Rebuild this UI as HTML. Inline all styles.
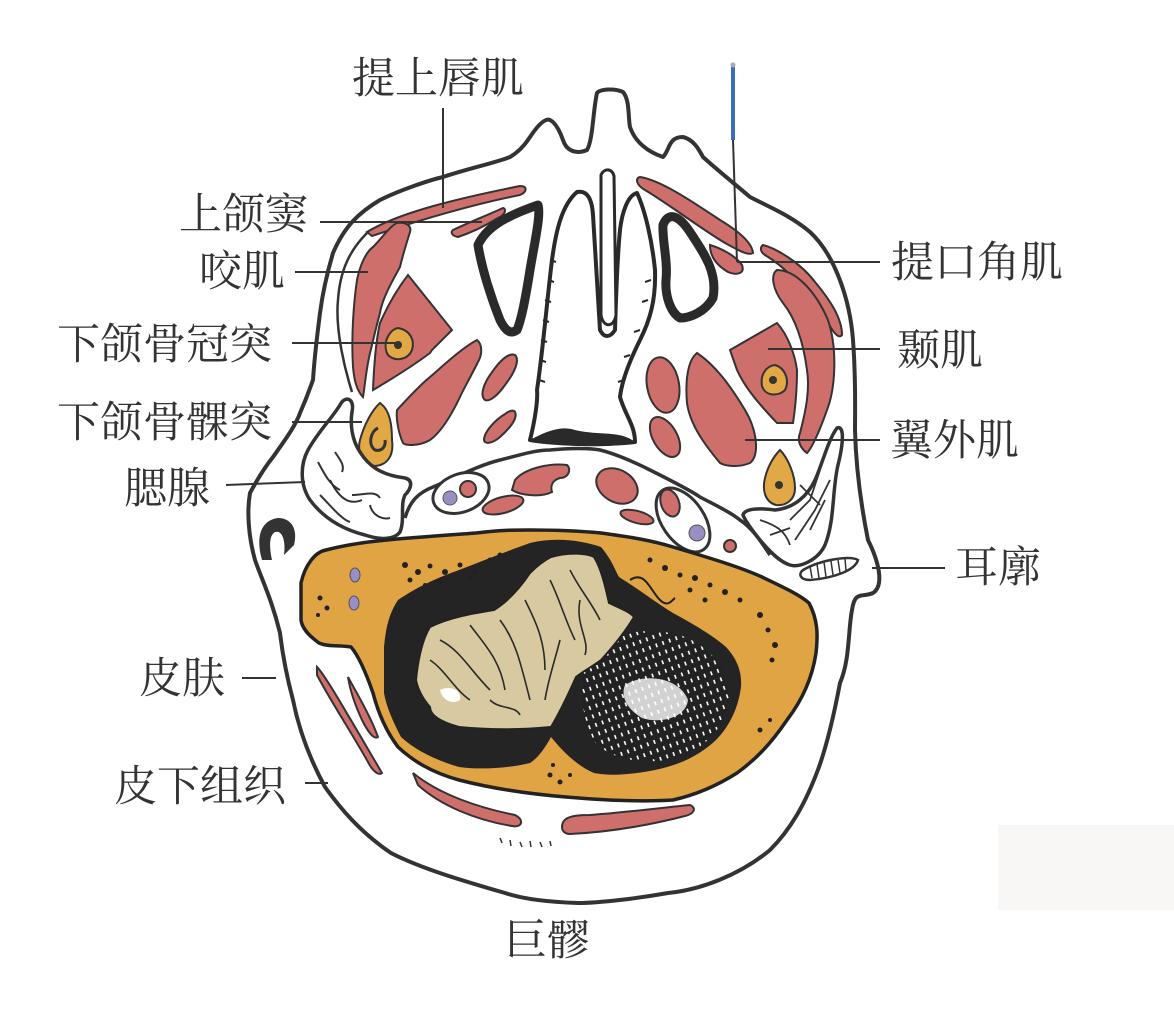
<!DOCTYPE html>
<html><head><meta charset="utf-8"><style>
html,body{margin:0;padding:0;background:#fff;}
svg{display:block;}
.t{font-family:"Liberation Serif","Noto Serif CJK SC",serif;font-size:43px;fill:#333;}
.r{fill:#cf6f6c;stroke:#333;stroke-width:2;}
.y{fill:#e2a846;stroke:#333;stroke-width:2;}
.o{fill:none;stroke:#333;stroke-width:4;stroke-linejoin:round;}
.l{stroke:#333;stroke-width:2;}
</style></head><body>
<svg width="1174" height="1011" viewBox="0 0 1174 1011" xmlns="http://www.w3.org/2000/svg">
<defs>
<pattern id="hatch" width="9" height="7" patternUnits="userSpaceOnUse" patternTransform="rotate(70)">
<rect width="9" height="7" fill="#222"/><rect x="1" y="2" width="4" height="1.6" fill="#fff"/>
</pattern>
</defs>
<rect x="998" y="825" width="176" height="85" fill="#f8f7f6"/>
<path class="o" d="M380,200 C400,190 430,180 443,177 C470,168 495,163 510,157 C522,150 528,140 530,137 C538,125 545,118 550,120 C558,124 562,138 563,140 C566,150 575,155 587,150 C593,140 593,110 597,93 C600,89 615,88 623,92 C630,100 628,118 630,127 C635,142 648,152 663,157 C670,150 668,137 683,137 C695,140 700,152 703,157 C715,168 730,180 750,197 C765,205 790,215 810,232 C835,255 850,300 853,340 C856,380 855,410 855,430 C856,470 862,510 868,540 C878,560 885,585 873,593 C862,598 855,590 852,610 C848,630 850,660 840,683 C833,720 825,750 819,767 C805,805 790,830 770,850 C740,875 700,890 668,893 C640,898 600,903 578,903 C545,902 520,898 505,893 C460,880 420,868 391,853 C360,832 340,808 325,787 C305,750 297,720 293,700 C285,670 282,650 280,633 C272,600 262,580 255,560 C248,535 247,510 250,493 C258,478 265,467 273,457 C285,440 296,425 300,413 C308,395 311,385 313,380 C315,350 318,330 320,313 C323,290 328,270 333,253 C345,225 360,212 380,200 Z"/>
<path fill="none" stroke="#333" stroke-width="2.5" d="M367,233 C350,250 340,270 338,300 C335,330 345,370 352,392"/>
<path d="M262,560 C255,535 262,520 278,518 C292,518 298,530 294,545 L284,555 C286,540 282,530 275,532 C268,536 270,550 272,560 Z" fill="#333"/>
<path class="r" d="M367,232 C400,212 460,198 520,186 C528,186 527,192 520,195 C470,205 420,220 372,236 Z"/>
<path class="r" d="M453,230 C470,222 490,214 503,208 C507,209 505,215 498,218 C485,226 470,233 458,237 C452,236 450,232 453,230 Z"/>
<path class="r" d="M397,223 C405,222 412,225 410,232 C405,248 402,258 400,267 C390,285 382,300 380,313 C374,335 371,350 370,353 C366,370 365,385 363,397 C356,390 354,378 353,367 C351,335 354,300 357,280 C360,265 366,252 373,247 C382,238 390,226 397,223 Z"/>
<path class="r" d="M408,275 L452,330 L432,350 L430,353 C410,368 390,380 373,390 C374,365 376,340 380,323 C388,305 398,288 408,275 Z"/>
<path class="y" d="M398,328 C410,330 415,340 412,350 C408,360 395,362 388,355 C382,345 388,330 398,328 Z"/>
<circle cx="398" cy="345" r="4" fill="#333"/>
<path class="r" d="M477,340 C483,345 482,355 478,362 C470,378 462,392 460,397 C450,418 440,433 430,440 C420,446 405,446 403,443 C398,432 396,418 397,410 C408,398 420,385 430,377 C445,364 462,348 477,340 Z"/>
<path class="r" d="M515,355 C520,360 515,372 505,385 C498,395 490,402 485,400 C480,396 483,385 490,375 C498,363 508,352 515,355 Z"/>
<path class="r" d="M515,412 C518,418 510,428 500,437 C493,443 485,445 484,440 C484,432 495,420 505,414 C510,410 514,410 515,412 Z"/>
<path class="y" d="M380,403 C390,410 392,425 392,440 C394,455 388,465 375,466 C362,464 357,452 360,440 C364,425 372,410 380,403 Z"/>
<path d="M378,428 C370,432 368,445 375,450 C382,452 386,446 385,440" fill="none" stroke="#333" stroke-width="3"/>
<path fill="#fff" stroke="#333" stroke-width="3.5" d="M340,405 C345,395 355,398 352,412 C350,425 352,440 360,452 C368,465 380,475 405,478 C413,480 412,488 405,495 C400,505 405,520 400,532 C394,540 380,540 365,535 C345,530 325,520 310,500 C300,485 300,465 308,450 C318,432 332,418 340,405 Z"/>
<g stroke="#333" stroke-width="2" fill="none">
<path d="M318,462 C325,475 330,485 340,490"/><path d="M330,480 C340,500 350,505 362,500"/><path d="M352,495 C365,495 375,490 380,498"/><path d="M320,495 C330,505 342,520 350,522"/><path d="M370,505 C372,515 382,520 390,518"/><path d="M335,452 C340,460 345,465 342,472"/>
</g>
<path fill="#fff" stroke="#2a2a2a" stroke-width="9" stroke-linejoin="round" d="M478,245 C485,230 500,218 538,205 C541,215 535,240 530,270 C526,295 522,318 517,330 C510,335 505,330 500,320 C492,300 482,270 478,245 Z"/>
<path fill="#fff" stroke="#2a2a2a" stroke-width="9" stroke-linejoin="round" d="M663,225 C668,212 678,214 690,232 C703,252 718,272 713,298 C705,312 690,318 680,318 C670,312 665,295 666,280 C668,260 662,240 663,225 Z"/>
<path fill="#fff" stroke="#2a2a2a" stroke-width="4" stroke-linejoin="round" d="M530,440 C535,420 538,400 537,390 C543,350 547,300 552,260 C556,230 562,205 577,192 C588,190 592,200 593,215 C596,260 598,300 600,330 C604,338 610,338 615,330 C616,300 617,260 620,230 C622,212 628,195 637,193 C645,210 652,240 655,270 C656,300 650,320 640,340 C630,360 622,380 620,397 C625,415 635,425 635,442 C610,445 560,445 530,440 Z"/>
<g stroke="#2a2a2a" stroke-width="2">
<path d="M545,300 l6,2"/><path d="M543,320 l6,2"/><path d="M541,340 l6,2"/><path d="M540,360 l6,2"/><path d="M539,380 l6,2"/><path d="M550,260 l6,2"/><path d="M548,280 l6,2"/>
<path d="M651,280 l-6,2"/><path d="M648,300 l-6,2"/><path d="M640,330 l-6,2"/><path d="M630,355 l-6,2"/><path d="M624,380 l-6,2"/>
</g>
<path fill="#fff" stroke="#2a2a2a" stroke-width="3" d="M601,175 C604,168 612,168 614,176 L616,315 C614,328 603,328 601,315 Z"/>
<path d="M530,440 C545,432 560,425 575,430 C600,436 620,430 635,442 C620,448 560,448 530,440Z" fill="#2a2a2a"/>
<path class="r" d="M640,177 C660,180 690,200 720,220 C740,232 752,243 753,253 C748,256 738,250 725,243 C700,228 670,205 645,190 C636,185 635,178 640,177 Z"/>
<path class="r" d="M710,245 C720,248 735,255 742,265 C745,273 738,276 728,272 C718,266 710,258 710,245 Z"/>
<path class="r" d="M763,245 C775,248 800,262 815,282 C830,300 842,318 842,335 C838,340 832,330 825,318 C810,295 790,270 765,255 C760,252 760,247 763,245 Z"/>
<path class="r" d="M777,270 C795,270 815,290 828,320 C838,350 835,390 827,410 C820,430 812,448 807,453 C800,448 797,440 800,433 C806,410 810,390 807,370 C803,340 795,318 783,303 C773,290 770,275 777,270 Z"/>
<path class="r" d="M730,350 L777,323 C788,335 795,355 797,370 C797,390 795,410 793,423 L777,423 C760,405 745,388 737,370 Z"/>
<path class="y" d="M775,365 C785,368 790,380 785,390 C778,397 765,396 762,386 C760,375 766,366 775,365 Z"/>
<circle cx="773" cy="380" r="4" fill="#333"/>
<path class="r" d="M697,353 C715,365 730,385 745,410 C757,430 760,455 750,463 C738,468 725,466 720,463 C705,445 690,425 687,403 C685,380 688,360 697,353 Z"/>
<ellipse class="r" cx="663" cy="385" rx="16" ry="28" transform="rotate(-10 663 385)"/>
<ellipse class="r" cx="665" cy="437" rx="12" ry="22" transform="rotate(-30 665 437)"/>
<path class="y" d="M780,450 C788,458 795,475 795,488 C795,500 786,506 776,505 C765,502 762,490 765,478 C768,465 775,455 780,450 Z"/>
<circle cx="779" cy="485" r="4" fill="#333"/>
<path fill="#fff" stroke="#333" stroke-width="3.5" d="M837,428 C845,425 843,445 838,465 C832,490 835,520 825,545 C818,560 800,568 790,565 C780,562 770,552 760,540 C752,530 745,520 743,515 C745,508 760,508 775,510 C795,508 808,495 815,480 C822,465 828,440 837,428 Z"/>
<g stroke="#333" stroke-width="1.8" fill="none">
<path d="M820,470 L810,500 L790,520"/><path d="M830,480 L815,510 L795,540"/><path d="M760,520 C775,525 785,530 790,545"/><path d="M825,500 L810,530"/><path d="M800,485 L820,505"/><path d="M770,535 L790,528"/>
</g>
<path fill="#fff" stroke="#333" stroke-width="2.5" d="M803,570 C820,560 850,555 858,560 C855,570 835,578 810,580 C800,580 798,574 803,570 Z"/>
<g stroke="#333" stroke-width="1.5"><path d="M810,566 L812,578"/><path d="M817,564 L819,578"/><path d="M824,562 L826,577"/><path d="M831,561 L833,575"/><path d="M838,560 L840,573"/><path d="M845,559 L846,570"/></g>
<path fill="none" stroke="#333" stroke-width="3.5" d="M405,518 C410,500 420,492 433,487 C460,475 480,465 500,460 C520,455 535,450 550,450 C570,448 590,448 600,450 C620,455 640,465 650,470 C670,480 690,490 700,497 C715,505 730,512 740,520 C752,528 760,540 770,555"/>
<ellipse cx="461" cy="493" rx="29" ry="19" transform="rotate(-20 461 493)" fill="#fff" stroke="#333" stroke-width="3"/>
<ellipse cx="683" cy="520" rx="21" ry="36" transform="rotate(-35 683 520)" fill="#fff" stroke="#333" stroke-width="3"/>
<path class="r" d="M515,480 C525,468 550,463 567,465 C572,470 568,478 560,478 C553,480 550,485 552,492 C540,498 520,495 512,490 Z"/>
<ellipse class="r" cx="617" cy="486" rx="22" ry="16" transform="rotate(30 617 486)"/>
<ellipse class="r" cx="503" cy="505" rx="21" ry="8" transform="rotate(-15 503 505)"/>
<ellipse class="r" cx="637" cy="517" rx="17" ry="6" transform="rotate(15 637 517)"/>
<ellipse class="r" cx="670" cy="503" rx="9" ry="14" transform="rotate(-20 670 503)"/>
<circle class="r" cx="468" cy="489" r="8"/>
<circle class="r" cx="730" cy="546" r="6"/>
<circle cx="450" cy="498" r="7" fill="#9a8fc4" stroke="#555"/>
<circle cx="697" cy="533" r="8" fill="#9a8fc4" stroke="#555"/>
<path fill="#e0a445" stroke="#222" stroke-width="3.5" d="M301,583 C305,565 315,552 326,550 C345,545 365,542 387,540 C420,537 450,535 476,533 C500,530 515,530 530,530 C560,530 580,531 601,533 C630,537 650,540 673,547 C710,558 740,567 762,577 C785,588 800,595 809,603 C818,620 818,635 816,653 C812,680 800,703 787,720 C770,745 755,760 737,773 C715,787 695,795 673,800 C640,802 600,800 566,797 C530,794 490,788 459,780 C430,772 412,760 398,747 C385,730 378,712 373,693 C365,670 358,655 351,647 C340,645 328,647 319,643 C308,635 302,628 301,620 Z"/>
<path fill="#242424" d="M384,647 C386,625 390,612 398,600 C420,585 440,577 459,570 C485,560 510,550 530,543 C555,537 580,540 601,547 C612,560 615,570 619,577 C640,590 655,602 673,613 C695,625 712,635 726,647 C738,660 742,673 741,687 C738,710 728,728 716,740 C700,755 680,765 655,770 C630,775 610,776 594,773 C575,765 560,748 551,737 C545,748 538,758 530,763 C510,768 480,770 459,767 C435,760 415,750 401,737 C392,720 386,705 384,693 Z"/>
<path fill="url(#hatch)" d="M585,660 C600,635 640,625 680,635 C715,648 732,675 728,705 C720,735 700,752 668,760 C635,764 610,758 595,742 C583,722 578,690 585,660 Z"/>
<path fill="#fff" opacity="0.8" d="M625,685 C645,672 680,678 688,700 C686,718 660,724 642,718 C628,710 620,697 625,685 Z"/>
<path fill="#d8c9a0" stroke="#222" stroke-width="2" d="M416,680 C418,660 422,640 430,627 C450,617 475,613 494,610 C510,600 522,585 530,573 C538,565 545,560 551,557 C565,553 585,552 594,557 C602,570 606,590 609,603 C620,608 630,612 634,617 C625,632 612,648 601,660 C590,668 582,672 576,677 C568,695 560,712 551,727 C520,730 490,730 459,727 C440,722 430,715 430,707 C422,698 418,690 416,680 Z"/>
<g stroke="#2a2a2a" stroke-width="1.6" fill="none">
<path d="M440,640 C460,650 470,670 490,690"/><path d="M470,625 C485,645 500,660 505,690"/><path d="M500,620 C515,640 520,660 530,700"/><path d="M525,600 C535,620 545,640 545,670"/><path d="M550,580 C560,600 565,620 575,640"/><path d="M570,570 C580,590 590,600 600,620"/><path d="M430,660 C445,670 455,690 470,700"/><path d="M560,640 C555,660 548,680 545,700"/><path d="M580,600 C575,625 590,640 585,655"/><path d="M490,700 C500,710 515,705 520,715"/>
</g>
<path fill="#fff" d="M440,690 C450,685 462,690 460,700 C452,705 442,700 440,690Z"/>
<g fill="#222">
<circle cx="405" cy="565" r="3"/><circle cx="418" cy="572" r="3"/><circle cx="430" cy="566" r="2.5"/><circle cx="445" cy="572" r="3"/><circle cx="460" cy="565" r="2.5"/><circle cx="475" cy="572" r="3"/><circle cx="490" cy="560" r="2.5"/><circle cx="410" cy="580" r="2.5"/><circle cx="440" cy="582" r="2.5"/><circle cx="470" cy="578" r="2.5"/><circle cx="500" cy="555" r="2.5"/><circle cx="425" cy="585" r="2"/>
<circle cx="650" cy="560" r="2.5"/><circle cx="665" cy="568" r="3"/><circle cx="680" cy="575" r="2.5"/><circle cx="695" cy="578" r="3"/><circle cx="710" cy="585" r="2.5"/><circle cx="725" cy="592" r="3"/><circle cx="740" cy="600" r="2.5"/><circle cx="760" cy="615" r="3"/><circle cx="768" cy="630" r="2.5"/><circle cx="775" cy="645" r="3"/><circle cx="772" cy="660" r="2.5"/><circle cx="690" cy="590" r="2.5"/><circle cx="705" cy="600" r="2.5"/><circle cx="760" cy="730" r="2.5"/><circle cx="770" cy="720" r="2"/>
<circle cx="550" cy="775" r="2.5"/><circle cx="560" cy="782" r="2.5"/><circle cx="553" cy="765" r="2"/><circle cx="570" cy="775" r="2"/>
<circle cx="320" cy="598" r="2.5"/><circle cx="327" cy="608" r="2.5"/><circle cx="318" cy="615" r="2"/>
</g>
<path d="M630,580 C645,570 650,590 660,600 C668,608 672,600 675,598" fill="none" stroke="#222" stroke-width="2"/>
<ellipse cx="355" cy="575" rx="5" ry="7" fill="#9a8fc4" stroke="#555"/>
<ellipse cx="354" cy="603" rx="5" ry="7" fill="#9a8fc4" stroke="#555"/>
<path class="r" d="M317,667 C325,675 345,710 382,773 C378,776 372,770 368,762 C350,730 330,700 317,675 Z"/>
<path class="r" d="M348,677 C355,690 370,715 378,737 C374,740 368,732 362,720 C355,705 350,690 348,677 Z"/>
<path class="r" d="M413,773 C440,795 480,808 515,815 C525,820 522,828 512,826 C475,820 440,805 418,785 Z"/>
<path class="r" d="M562,827 C562,818 570,815 590,815 C630,812 660,808 690,805 C697,808 694,814 685,816 C650,825 610,832 570,834 C565,834 562,831 562,827 Z"/>
<g stroke="#333" stroke-width="1.5"><path d="M500,838 l2,5"/><path d="M510,840 l1,6"/><path d="M520,842 l2,5"/><path d="M530,841 l1,6"/><path d="M540,842 l2,5"/><path d="M550,841 l1,5"/></g>
<line x1="733" y1="64" x2="733" y2="140" stroke="#3a6fb8" stroke-width="4"/>
<circle cx="733" cy="65" r="2.5" fill="#aaa"/>
<line class="l" x1="443" y1="108" x2="443" y2="208"/>
<line class="l" x1="320" y1="222" x2="482" y2="222"/>
<line class="l" x1="295" y1="272" x2="368" y2="272"/>
<line class="l" x1="292" y1="343" x2="395" y2="343"/>
<line class="l" x1="292" y1="422" x2="362" y2="422"/>
<line class="l" x1="226" y1="485" x2="305" y2="482"/>
<line class="l" x1="733" y1="140" x2="737" y2="262"/>
<line class="l" x1="737" y1="262" x2="880" y2="262"/>
<line class="l" x1="768" y1="349" x2="880" y2="349"/>
<line class="l" x1="745" y1="440" x2="880" y2="440"/>
<line class="l" x1="872" y1="568" x2="945" y2="568"/>
<line class="l" x1="242" y1="678" x2="276" y2="678"/>
<line class="l" x1="305" y1="783" x2="328" y2="783"/>
<text class="t" x="352" y="93">提上唇肌</text>
<text class="t" x="179" y="229">上颌窦</text>
<text class="t" x="199" y="286">咬肌</text>
<text class="t" x="57" y="359">下颌骨冠突</text>
<text class="t" x="57" y="437">下颌骨髁突</text>
<text class="t" x="124" y="503">腮腺</text>
<text class="t" x="139" y="693">皮肤</text>
<text class="t" x="114" y="801">皮下组织</text>
<text class="t" x="504" y="955">巨髎</text>
<text class="t" x="891" y="277">提口角肌</text>
<text class="t" x="897" y="365">颞肌</text>
<text class="t" x="890" y="455">翼外肌</text>
<text class="t" x="955" y="582">耳廓</text>
</svg>
</body></html>
